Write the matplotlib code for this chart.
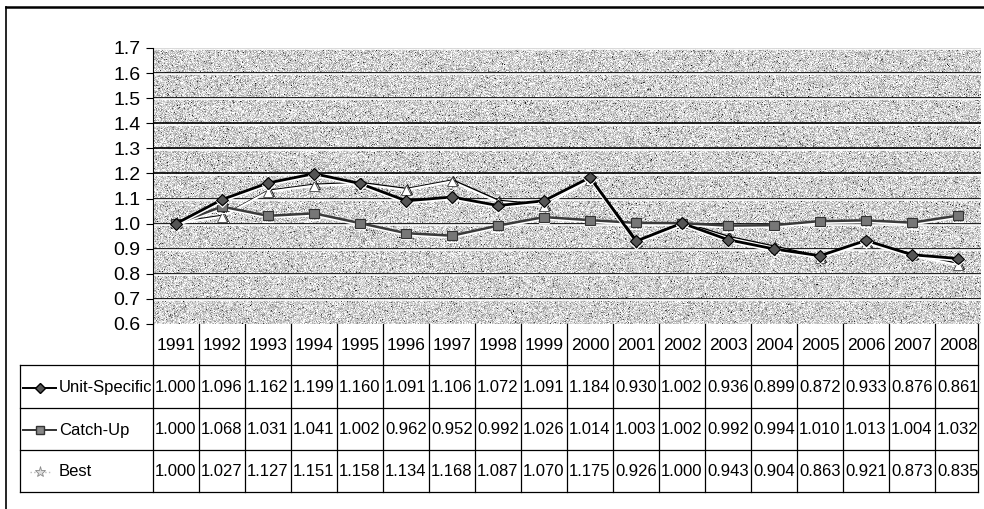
import matplotlib
matplotlib.use("Agg")
import matplotlib.pyplot as plt
import matplotlib.patheffects as pe
from matplotlib.lines import Line2D
import numpy as np

plt.rcParams['font.family'] = ['Liberation Sans', 'DejaVu Sans']

years = [1991, 1992, 1993, 1994, 1995, 1996, 1997, 1998, 1999,
         2000, 2001, 2002, 2003, 2004, 2005, 2006, 2007, 2008]
unit_specific = [1.000, 1.096, 1.162, 1.199, 1.160, 1.091, 1.106, 1.072, 1.091,
                 1.184, 0.930, 1.002, 0.936, 0.899, 0.872, 0.933, 0.876, 0.861]
catch_up = [1.000, 1.068, 1.031, 1.041, 1.002, 0.962, 0.952, 0.992, 1.026,
            1.014, 1.003, 1.002, 0.992, 0.994, 1.010, 1.013, 1.004, 1.032]
best = [1.000, 1.027, 1.127, 1.151, 1.158, 1.134, 1.168, 1.087, 1.070,
        1.175, 0.926, 1.000, 0.943, 0.904, 0.863, 0.921, 0.873, 0.835]
series_names = ['Unit-Specific', 'Catch-Up', 'Best']
yticks = [0.6, 0.7, 0.8, 0.9, 1.0, 1.1, 1.2, 1.3, 1.4, 1.5, 1.6, 1.7]

FS = 12
W, H = 984, 509
fig = plt.figure(figsize=(W / 100, H / 100), dpi=100)
fig.patch.set_facecolor('white')

# plot area in pixels
px0, px1, py0, py1 = 153, 981, 48, 324
ax = fig.add_axes([px0 / W, 1 - py1 / H, (px1 - px0) / W, (py1 - py0) / H])
n = len(years)
x = np.arange(n)
ax.set_xlim(-0.5, n - 0.5)
ax.set_ylim(0.6, 1.7)

# granite-like texture for the plot area
rng = np.random.default_rng(3)
tex = 0.82 + 0.13 * rng.standard_normal((py1 - py0, px1 - px0))
blobs = rng.random((py1 - py0, px1 - px0)) < 0.025
tex[blobs] -= 0.45
tex = np.clip(tex, 0, 1)
ax.imshow(tex, cmap='gray', vmin=0, vmax=1, aspect='auto',
          extent=(-0.5, n - 0.5, 0.6, 1.7), zorder=0, interpolation='nearest')

# embossed gridlines
for t in yticks[1:]:
    ax.axhline(t, color='black', lw=1.2, zorder=1)
    ax.axhline(t - 0.005, color='white', lw=1.2, zorder=1)

shadow_w = [pe.SimpleLineShadow(offset=(0, -1.2), shadow_color='white', alpha=1), pe.Normal()]
shadow_k = [pe.SimpleLineShadow(offset=(0.6, 0.8), shadow_color='black', alpha=1), pe.Normal()]

ax.plot(x, best, color='white', lw=1.6, marker='^', ms=7, mfc='white',
        mec='#444444', mew=0.6, zorder=3, path_effects=shadow_k)
ax.plot(x, catch_up, color='#3a3a3a', lw=1.8, marker='s', ms=6.5, mfc='#777777',
        mec='#333333', mew=0.8, zorder=4, path_effects=shadow_w)
ax.plot(x, unit_specific, color='black', lw=2.0, marker='D', ms=6, mfc='#555555',
        mec='black', mew=0.8, zorder=5, path_effects=shadow_w)

ax.set_yticks(yticks)
ax.set_yticklabels([f"{t:.1f}" for t in yticks], fontsize=14)
ax.tick_params(axis='y', length=5, width=0.8, pad=4)
ax.set_xticks([])
for s in ['top', 'right', 'bottom']:
    ax.spines[s].set_visible(False)
ax.spines['left'].set_linewidth(0.8)

# data table drawn in pixel space
tb = fig.add_axes([0, 0, 1, 1], zorder=10)
tb.set_xlim(0, W)
tb.set_ylim(H, 0)
tb.axis('off')
tb.patch.set_alpha(0)

cw = (px1 - px0) / n
row_edges = [324, 365, 408, 450, 492]
lab_x0 = 20
lw_t = 0.9

# header row
tb.plot([px0, px1 - 3], [row_edges[1], row_edges[1]], color='black', lw=lw_t)
for i in range(n + 1):
    xe = px0 + i * cw if i < n else px1 - 3
    tb.plot([xe, xe], [row_edges[0], row_edges[-1]], color='black', lw=lw_t)
for i, yv in enumerate(years):
    tb.text(px0 + (i + 0.5) * cw, (row_edges[0] + row_edges[1]) / 2 + 1, str(yv),
            ha='center', va='center', fontsize=FS + 0.5)

# body rows
for r in range(2, 5):
    tb.plot([lab_x0, px1 - 3], [row_edges[r], row_edges[r]], color='black', lw=lw_t)
tb.plot([lab_x0, lab_x0], [row_edges[1], row_edges[-1]], color='black', lw=lw_t)
tb.plot([lab_x0, px0], [row_edges[1], row_edges[1]], color='black', lw=lw_t)

rows = [unit_specific, catch_up, best]
for r, vals in enumerate(rows):
    yc = (row_edges[r + 1] + row_edges[r + 2]) / 2 + 1
    for i, v in enumerate(vals):
        tb.text(px0 + (i + 0.5) * cw, yc, f"{v:.3f}", ha='center', va='center', fontsize=FS)
    tb.text(59, yc, series_names[r], ha='left', va='center', fontsize=FS)

# legend keys
yk = [(row_edges[k] + row_edges[k + 1]) / 2 + 1 for k in (1, 2, 3)]
tb.plot([23, 56], [yk[0], yk[0]], color='black', lw=1.4)
tb.plot([39.5], [yk[0]], marker='D', ms=5, mfc='#555555', mec='black')
tb.plot([23, 56], [yk[1], yk[1]], color='#333333', lw=1.4)
tb.plot([39.5], [yk[1]], marker='s', ms=5.5, mfc='#888888', mec='#333333')
tb.plot([30, 50], [yk[2], yk[2]], color='#bbbbbb', lw=1, ls=':')
tb.plot([39.5], [yk[2]], marker='*', ms=8, mfc='#dddddd', mec='#888888', mew=0.6)

# outer chart frame
fig.add_artist(Line2D([6 / W, 1], [1 - 7 / H, 1 - 7 / H], color='black', lw=1.8))
fig.add_artist(Line2D([6 / W, 6 / W], [0, 1 - 7 / H], color='black', lw=1.2))

fig.savefig('out.png', dpi=100)
